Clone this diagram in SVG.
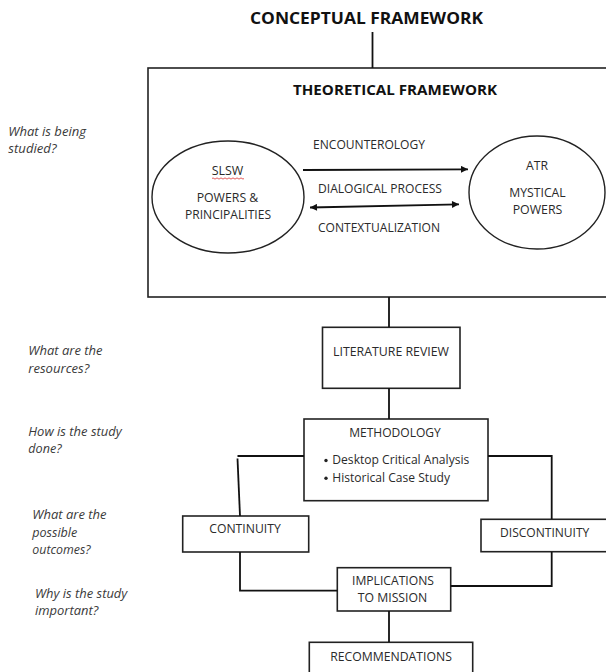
<svg xmlns="http://www.w3.org/2000/svg" width="606" height="672" viewBox="0 0 606 672">
<style>
  .box { fill: #fff; stroke: #222; stroke-width: 1.6; }
  .ell { fill: #fff; stroke: #222; stroke-width: 1.4; }
  .ln { fill: none; stroke: #111; stroke-width: 1.8; }
  .t { font-family: "Open Sans", "Liberation Sans", sans-serif; font-size: 12px; fill: #2a2a2a; text-anchor: middle; }
  .hb { font-family: "Open Sans", "Liberation Sans", sans-serif; font-weight: bold; fill: #111; text-anchor: middle; }
  .q { font-family: "Open Sans", "Liberation Sans", sans-serif; font-style: italic; font-size: 12px; fill: #3a3a3a; }
</style>
<defs>
  <marker id="ah" viewBox="0 0 10 10" refX="10" refY="5" markerWidth="8" markerHeight="7" markerUnits="userSpaceOnUse" orient="auto-start-reverse">
    <path d="M0,0 L10,5 L0,10 z" fill="#111"/>
  </marker>
</defs>
<rect width="606" height="672" fill="#fff"/>

<g id="title">
  <text class="hb" x="366.5" y="24" font-size="16" textLength="233" lengthAdjust="spacingAndGlyphs">CONCEPTUAL FRAMEWORK</text>
</g>

<g id="theoretical-framework">
  <rect class="box" x="148" y="68" width="470" height="229"/>
  <text class="hb" x="395" y="95" font-size="14.5" textLength="204" lengthAdjust="spacingAndGlyphs">THEORETICAL FRAMEWORK</text>
</g>

<g id="slsw">
  <ellipse class="ell" cx="228" cy="197" rx="76" ry="56"/>
  <text class="t" x="227.5" y="175" textLength="31.6" lengthAdjust="spacingAndGlyphs">SLSW</text>
  <path d="M212,178.5 q1,-1.2 2,0 t2,0 t2,0 t2,0 t2,0 t2,0 t2,0 t2,0 t2,0 t2,0 t2,0 t2,0 t2,0 t2,0 t2,0 t2,0" fill="none" stroke="#d33" stroke-width="0.8"/>
  <text class="t" x="227.5" y="201.7" textLength="61.7" lengthAdjust="spacingAndGlyphs">POWERS &amp;</text>
  <text class="t" x="228" y="219" textLength="86" lengthAdjust="spacingAndGlyphs">PRINCIPALITIES</text>
</g>

<g id="atr">
  <ellipse class="ell" cx="537" cy="192.5" rx="68" ry="56.5"/>
  <text class="t" x="537" y="170" textLength="22" lengthAdjust="spacingAndGlyphs">ATR</text>
  <text class="t" x="537.5" y="197.3" textLength="56.3" lengthAdjust="spacingAndGlyphs">MYSTICAL</text>
  <text class="t" x="537.5" y="214" textLength="49.7" lengthAdjust="spacingAndGlyphs">POWERS</text>
</g>

<g id="process-labels">
  <text class="t" x="369" y="149" textLength="112" lengthAdjust="spacingAndGlyphs">ENCOUNTEROLOGY</text>
  <text class="t" x="380" y="192.7" textLength="124" lengthAdjust="spacingAndGlyphs">DIALOGICAL PROCESS</text>
  <text class="t" x="379" y="231.7" textLength="122" lengthAdjust="spacingAndGlyphs">CONTEXTUALIZATION</text>
</g>

<g id="literature-review">
  <rect class="box" x="322.5" y="327.3" width="137.5" height="61"/>
  <text class="t" x="391" y="356" textLength="116" lengthAdjust="spacingAndGlyphs">LITERATURE REVIEW</text>
</g>

<g id="methodology">
  <rect class="box" x="304" y="419" width="184" height="81.7"/>
  <text class="t" x="395" y="436.7" textLength="91.7" lengthAdjust="spacingAndGlyphs">METHODOLOGY</text>
  <circle cx="326" cy="460.5" r="1.7" fill="#222"/>
  <circle cx="326" cy="478.2" r="1.7" fill="#222"/>
  <text class="t" x="332.3" y="464" style="text-anchor:start" textLength="137" lengthAdjust="spacingAndGlyphs">Desktop Critical Analysis</text>
  <text class="t" x="332.3" y="481.7" style="text-anchor:start" textLength="117.7" lengthAdjust="spacingAndGlyphs">Historical Case Study</text>
</g>

<g id="continuity">
  <rect class="box" x="182.7" y="516" width="126" height="36"/>
  <text class="t" x="245" y="533.3" textLength="71.4" lengthAdjust="spacingAndGlyphs">CONTINUITY</text>
</g>

<g id="discontinuity">
  <rect class="box" x="481" y="519.3" width="135" height="32.4"/>
  <text class="t" x="544.7" y="536.7" textLength="89.3" lengthAdjust="spacingAndGlyphs">DISCONTINUITY</text>
</g>

<g id="implications">
  <rect class="box" x="337.3" y="567.7" width="113.4" height="43.3"/>
  <text class="t" x="393" y="585" textLength="82" lengthAdjust="spacingAndGlyphs">IMPLICATIONS</text>
  <text class="t" x="392.5" y="602.3" textLength="69.4" lengthAdjust="spacingAndGlyphs">TO MISSION</text>
</g>

<g id="recommendations">
  <rect class="box" x="309.3" y="642.3" width="163.4" height="40"/>
  <text class="t" x="391" y="660.7" textLength="121.7" lengthAdjust="spacingAndGlyphs">RECOMMENDATIONS</text>
</g>

<g id="questions">
  <text class="q" x="8.3" y="135.7" textLength="77.7" lengthAdjust="spacingAndGlyphs">What is being</text>
  <text class="q" x="8.3" y="153.3" textLength="48.3" lengthAdjust="spacingAndGlyphs">studied?</text>
  <text class="q" x="28.3" y="355" textLength="74.3" lengthAdjust="spacingAndGlyphs">What are the</text>
  <text class="q" x="28.3" y="372.7" textLength="61" lengthAdjust="spacingAndGlyphs">resources?</text>
  <text class="q" x="28.3" y="436" textLength="93.4" lengthAdjust="spacingAndGlyphs">How is the study</text>
  <text class="q" x="28.3" y="453.3" textLength="33.3" lengthAdjust="spacingAndGlyphs">done?</text>
  <text class="q" x="32.3" y="519.3" textLength="74.3" lengthAdjust="spacingAndGlyphs">What are the</text>
  <text class="q" x="32.3" y="536.7" textLength="45" lengthAdjust="spacingAndGlyphs">possible</text>
  <text class="q" x="32.3" y="554" textLength="58.3" lengthAdjust="spacingAndGlyphs">outcomes?</text>
  <text class="q" x="35" y="598.3" textLength="92.3" lengthAdjust="spacingAndGlyphs">Why is the study</text>
  <text class="q" x="35" y="615" textLength="63.3" lengthAdjust="spacingAndGlyphs">important?</text>
</g>

<g id="connectors">
  <line class="ln" x1="372.5" y1="32" x2="372.5" y2="68"/>
  <line class="ln" x1="389" y1="297" x2="389" y2="327"/>
  <line class="ln" x1="389" y1="388" x2="389" y2="419"/>
  <polyline class="ln" points="304,456 237.5,456"/>
  <line class="ln" x1="237.5" y1="458.5" x2="240" y2="516"/>
  <polyline class="ln" points="488,456 551.7,456 551.7,519"/>
  <polyline class="ln" points="240,552 240,590.7 337.3,590.7"/>
  <polyline class="ln" points="551.7,552 551.7,586 450.7,586"/>
  <line class="ln" x1="389" y1="611" x2="389" y2="642"/>
  <line class="ln" x1="303" y1="170" x2="468" y2="169.3" marker-end="url(#ah)"/>
  <line class="ln" x1="310" y1="207.5" x2="459" y2="204.3" marker-start="url(#ah)" marker-end="url(#ah)"/>
</g>
</svg>
